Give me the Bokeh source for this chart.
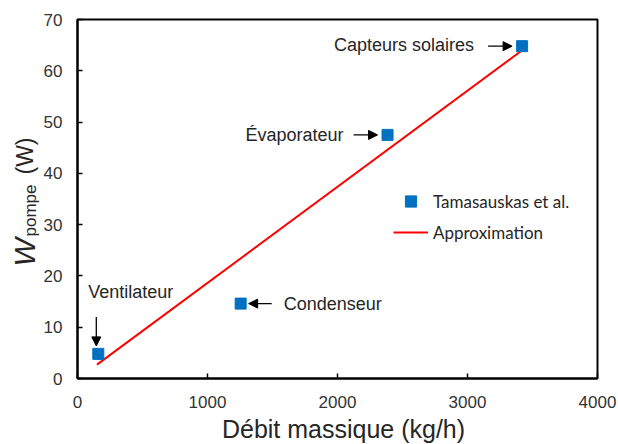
import math
from bokeh.plotting import figure
from bokeh.models import (Range1d, FixedTicker, Label, Arrow, NormalHead,
                          Legend, LegendItem, BoxAnnotation)
from bokeh.embed import file_html
from bokeh.resources import INLINE

# ---------------- data ----------------
components = ["Ventilateur", "Condenseur", "Évaporateur", "Capteurs solaires"]
debit = [160, 1255, 2385, 3420]          # kg/h
puissance = [4.8, 14.6, 47.5, 64.8]      # W
approx_x = [150, 3410]
approx_y = [2.7, 63.8]
x_ticks = [0, 1000, 2000, 3000, 4000]
y_ticks = [0, 10, 20, 30, 40, 50, 60, 70]
legend_labels = ["Tamasauskas et al.", "Approximation"]
x_title = "Débit massique (kg/h)"

# ---------------- layout ----------------
W, H = 618, 444
FL, FR, FT, FB = 77, 597, 19, 378          # where the data box lands (px)
X_MIN, X_MAX, Y_MIN, Y_MAX = 0, 4000, 0, 70
DXP = (X_MAX - X_MIN) / (FR - FL)
DYP = (Y_MAX - Y_MIN) / (FB - FT)


def cx(px):
    return X_MIN + (px - FL) * DXP


def cy(py):
    return Y_MIN + (FB - py) * DYP


FONT = "Liberation Sans"
TXT = "#262626"

p = figure(width=W, height=H, output_backend="svg", toolbar_location=None,
           x_range=Range1d(cx(0), cx(W)), y_range=Range1d(cy(H), cy(0)),
           min_border=0, min_border_left=0, min_border_right=0,
           min_border_top=0, min_border_bottom=0)

p.xgrid.visible = False
p.ygrid.visible = False
p.outline_line_color = None
p.background_fill_color = "white"
p.border_fill_color = "white"

for ax, ticks, bnds in ((p.xaxis[0], x_ticks, (X_MIN, X_MAX)),
                        (p.yaxis[0], y_ticks, (Y_MIN, Y_MAX))):
    ax.fixed_location = 0
    ax.bounds = bnds
    ax.ticker = FixedTicker(ticks=ticks)
    ax.minor_tick_line_color = None
    ax.major_tick_in = 5
    ax.major_tick_out = 0
    ax.major_tick_line_width = 1.5
    ax.major_tick_line_color = "black"
    ax.axis_line_color = "black"
    ax.axis_line_width = 2
    ax.major_label_text_font = FONT
    ax.major_label_text_font_size = "17px"
    ax.major_label_text_color = "#333333"
p.xaxis[0].major_label_standoff = 17
p.yaxis[0].major_label_standoff = 15

p.add_layout(BoxAnnotation(left=X_MIN, right=X_MAX, bottom=Y_MIN, top=Y_MAX,
                           fill_color=None, fill_alpha=0,
                           line_color="black", line_width=2, line_alpha=1))

# ---------------- glyphs ----------------
line_r = p.line(approx_x, approx_y, line_color="#ff0000", line_width=2)
pts_r = p.scatter(debit, puissance, marker="square", size=11,
                  fill_color="#0070c0", line_color="#0070c0")

# ---------------- annotations with arrows ----------------
# (text offset px, align, arrow start px, arrow end px) relative to each point; +y is down
ann = [
    ((-10, -62), "left", (-2, -37), (-2, -8)),
    ((43, 0), "left", (31, 0), (8, 0)),
    ((-44, 0), "right", (-34, 0), (-10, 0)),
    ((-48, -1), "right", (-34, 0), (-10, 0)),
]
for name, xv, yv, (toff, align, a0, a1) in zip(components, debit, puissance, ann):
    p.add_layout(Label(x=xv + toff[0] * DXP, y=yv - toff[1] * DYP, text=name,
                       text_font=FONT, text_font_size="18px", text_color=TXT,
                       text_align=align, text_baseline="middle"))
    p.add_layout(Arrow(end=NormalHead(size=9, fill_color="black", line_color="black"),
                       x_start=xv + a0[0] * DXP, y_start=yv - a0[1] * DYP,
                       x_end=xv + a1[0] * DXP, y_end=yv - a1[1] * DYP,
                       line_color="black", line_width=1.3))

# ---------------- legend ----------------
legend = Legend(items=[LegendItem(label=legend_labels[0], renderers=[pts_r]),
                       LegendItem(label=legend_labels[1], renderers=[line_r])],
                location=(393, 198), glyph_width=35, glyph_height=28,
                label_standoff=5, spacing=3, padding=0, margin=0,
                border_line_color=None, background_fill_alpha=0,
                label_text_font="Lato", label_text_font_size="17px",
                label_text_color=TXT, label_height=28)
p.add_layout(legend)

# ---------------- axis titles ----------------
p.add_layout(Label(x=cx(343), y=cy(428), text=x_title, text_font=FONT,
                   text_font_size="25px", text_color=TXT,
                   text_align="center", text_baseline="middle"))

ang = math.pi / 2
p.add_layout(Label(x=cx(24), y=cy(266), text="W", angle=ang, text_font=FONT,
                   text_font_style="italic", text_font_size="30px", text_color=TXT,
                   text_align="left", text_baseline="alphabetic"))
p.add_layout(Label(x=cx(30), y=cy(236), text="pompe", angle=ang, text_font=FONT,
                   text_font_size="17px", text_color=TXT,
                   text_align="left", text_baseline="alphabetic"))
p.add_layout(Label(x=cx(24), y=cy(174), text="(W)", angle=ang, text_font=FONT,
                   text_font_size="23px", text_color=TXT,
                   text_align="left", text_baseline="alphabetic"))

open("out.html", "w").write(file_html(p, INLINE))
